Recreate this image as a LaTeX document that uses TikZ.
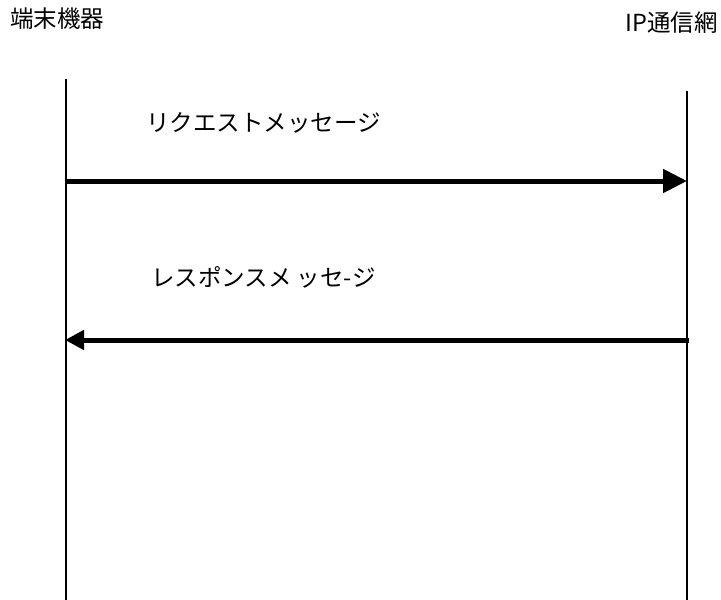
\documentclass[tikz,border=0pt]{standalone}
\usepackage{fontspec}
\setmainfont{Noto Sans CJK JP}
\usepackage{xcolor}
\usetikzlibrary{arrows.meta, positioning}

\begin{document}
\begin{tikzpicture}[x=1pt, y=-1pt,
    lifeline/.style={line width=2pt, black},
    msg/.style={line width=5pt, black},
    msglabel/.style={font=\fontsize{23.5}{26}\selectfont, anchor=west, inner sep=0pt},
    partylabel/.style={font=\fontsize{23.5}{26}\selectfont, inner sep=0pt}]

  \useasboundingbox (0, 0) rectangle (721, 600);

  % parties
  \node[partylabel, anchor=west] (term) at (10, 19) {端末機器};
  \node[partylabel, anchor=east] (ipnet) at (718, 23) {IP通信網};

  % lifelines
  \coordinate (termtop) at (66, 79);
  \coordinate (termbot) at (66, 600);
  \coordinate (nettop) at (687, 91);
  \coordinate (netbot) at (687, 600);
  \draw[lifeline] (termtop) -- (termbot);
  \draw[lifeline] (nettop) -- (netbot);

  % request
  \node[msglabel] (reqlabel) at (146, 123) {リクエストメッセージ};
  \coordinate (reqstart) at (66, 181);
  \coordinate (reqend) at (687, 181);
  \draw[msg, -{Triangle[length=24pt, width=23pt]}] (reqstart) -- (reqend);

  % response
  \node[msglabel] (reslabel) at (151, 277) {レスポンスメ ッセ-ジ};
  \coordinate (resstart) at (689, 340);
  \coordinate (resend) at (65, 340);
  \draw[msg, -{Triangle[length=19pt, width=19pt]}] (resstart) -- (resend);

\end{tikzpicture}
\end{document}
